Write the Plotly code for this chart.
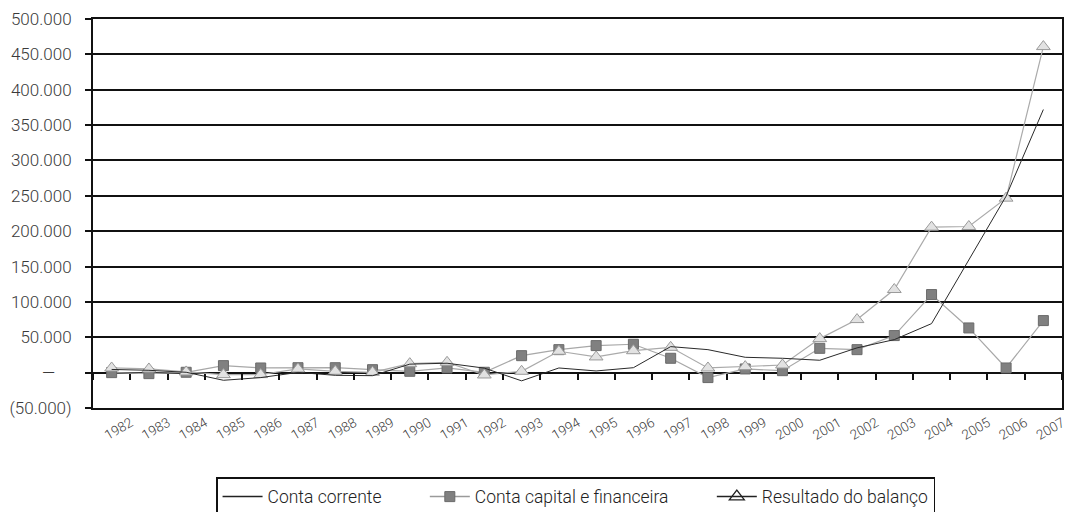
import plotly.graph_objects as go

years = [str(y) for y in range(1982, 2008)]

# US$ milhões
conta_corrente = [4500, 3300, 500, -10800, -7000, 300, -3800, -4300, 12000, 13300, 6400, -11600,
                  6600, 2400, 7000, 36800, 32500, 21700, 20300, 17500, 35000, 46700, 69300,
                  160000, 249500, 372000]
conta_capital = [0, -1400, 500, 9900, 6600, 7000, 7000, 4200, 1900, 6600, 500, 24000,
                 32500, 38200, 40100, 20300, -7000, 5200, 2800, 34400, 32500, 52400, 110400,
                 63200, 6600, 73600]
resultado = [6600, 5200, 1000, -2800, -2800, 5200, 1900, 500, 12700, 14600, -3300, 1900,
             30200, 22200, 31000, 35800, 6600, 8500, 10800, 48100, 75000, 117500, 205700,
             206600, 246700, 461000]

y_ticks = list(range(-50000, 500001, 50000))
y_labels = ["(50.000)", "\u2014\u00a0\u00a0\u00a0\u00a0"] + [f"{v // 1000}.000" for v in y_ticks[2:]]

names = ["Conta corrente", "Conta capital e financeira", "Resultado do balanço"]

FONT = "Roboto"
TXT = "#3a3a3a"
PAD = "\u00a0" * 9

fig = go.Figure()

# series drawn on the chart
fig.add_trace(go.Scatter(x=years, y=conta_corrente, mode="lines", xaxis="x2",
                         line=dict(color="#2a2a2a", width=1), showlegend=False))
fig.add_trace(go.Scatter(x=years, y=conta_capital, mode="lines+markers",
                         line=dict(color="#a8a8a8", width=1.2),
                         marker=dict(symbol="square", size=10, color="#808080",
                                     line=dict(color="#6a6a6a", width=1)),
                         showlegend=False))
fig.add_trace(go.Scatter(x=years, y=resultado, mode="lines+markers",
                         line=dict(color="#aaaaaa", width=1.2),
                         marker=dict(symbol="triangle-up", size=12, color="#e2e2e2",
                                     line=dict(color="#9a9a9a", width=1)),
                         showlegend=False))

# legend entries
fig.add_trace(go.Scatter(x=[None], y=[None], mode="lines", name=names[0] + PAD,
                         line=dict(color="#222222", width=1.5)))
fig.add_trace(go.Scatter(x=[None], y=[None], mode="lines+markers", name=names[1] + PAD,
                         line=dict(color="#9a9a9a", width=1.5),
                         marker=dict(symbol="square", size=10, color="#808080",
                                     line=dict(color="#6a6a6a", width=1))))
fig.add_trace(go.Scatter(x=[None], y=[None], mode="lines+markers", name=names[2],
                         line=dict(color="#222222", width=1.5),
                         marker=dict(symbol="triangle-up-open", size=13, color="#222222",
                                     line=dict(width=1.3))))

zero_frac = 50000 / 550000

fig.update_layout(
    width=1076, height=512,
    margin=dict(l=93, r=14, t=19, b=104, autoexpand=False),
    paper_bgcolor="white", plot_bgcolor="white",
    font=dict(family=FONT, color=TXT),
    xaxis=dict(type="category", categoryorder="array", categoryarray=years,
               range=[-0.5, 25.5], showgrid=False, zeroline=False,
               showline=True, linecolor="#111111", linewidth=2, mirror=True,
               ticks="", tickangle=-30, ticklabelshift=19, automargin=False,
               tickfont=dict(family=FONT, size=13.5, color=TXT, weight=300)),
    xaxis2=dict(type="category", categoryorder="array", categoryarray=years,
                range=[-0.5, 25.5], overlaying="x", anchor="free", position=zero_frac,
                showgrid=False, zeroline=False, showline=False,
                ticks="outside", ticklen=6, tickwidth=2, tickcolor="#111111",
                tickson="boundaries", showticklabels=False),
    yaxis=dict(range=[-50000, 500000], tickmode="array", tickvals=y_ticks, ticktext=y_labels,
               showgrid=True, gridcolor="#111111", gridwidth=2, zeroline=False,
               showline=True, linecolor="#111111", linewidth=2, mirror=True,
               ticks="outside", ticklen=6, tickwidth=2, tickcolor="#111111",
               ticklabelstandoff=10, automargin=False,
               tickfont=dict(family=FONT, size=17, color=TXT, weight=300)),
    legend=dict(orientation="h", x=0.498, xanchor="center", y=-0.178, yanchor="top",
                bordercolor="#111111", borderwidth=1.5, bgcolor="white",
                font=dict(family=FONT, size=17.5, color="#222222", weight=300),
                itemwidth=40, tracegroupgap=0),
)

fig.write_html("out.html")
